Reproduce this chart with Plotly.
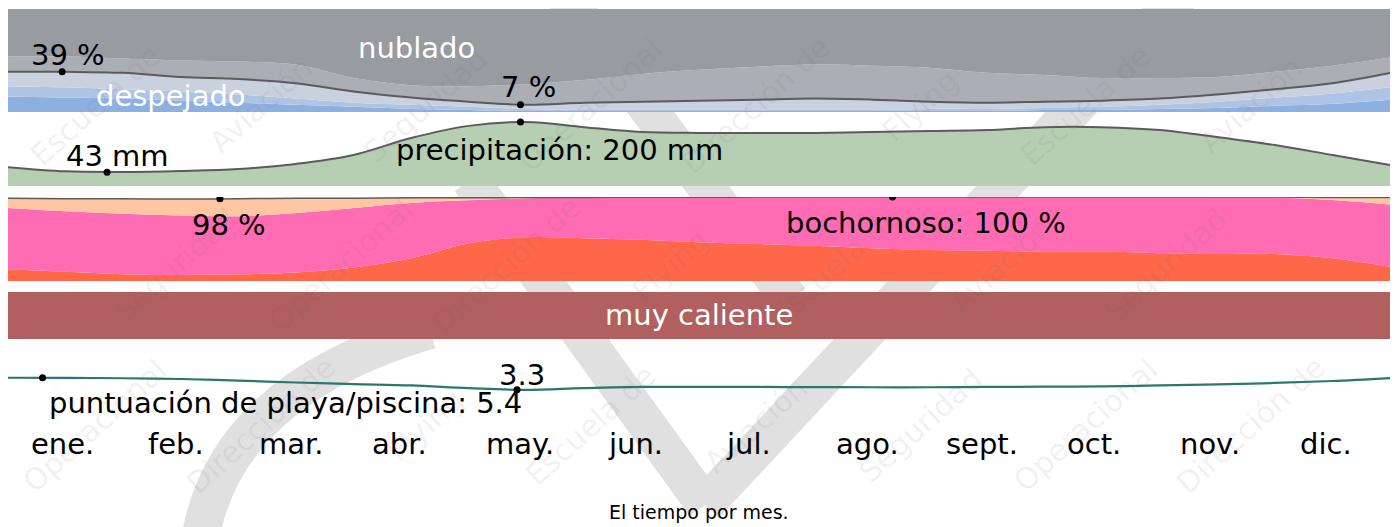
import plotly.graph_objects as go

# The page body has an 8 px margin, so the figure starts at (8, 8) of the window.
OFF = 8
W, H = 1398 - OFF, 527 - OFF


def px(x):
    return (x - OFF) / W


def py(y):
    return 1 - (y - OFF) / H


# ---------------- data ----------------
months = ["ene.", "feb.", "mar.", "abr.", "may.", "jun.", "jul.", "ago.", "sept.", "oct.", "nov.", "dic."]
month_pos = [0.47, 1.46, 2.46, 3.40, 4.45, 5.45, 6.43, 7.46, 8.46, 9.43, 10.44, 11.44]

half_months = [0, 0.5, 1, 1.5, 2, 2.5, 3, 3.5, 4, 4.5, 5, 5.5, 6,
               6.5, 7, 7.5, 8, 8.5, 9, 9.5, 10, 10.5, 11, 11.5, 12]

# cloud cover (% of time)
clear = [15, 14, 13, 11, 9, 7, 5, 3, 2, 1, 1, 1, 1, 1, 1, 1, 1, 1, 2, 2, 3, 4, 6, 8, 12]
mostly_clear = [10, 10, 9, 9, 8, 6, 4, 4, 3, 2, 1, 1, 1, 1, 1, 1, 2, 2, 2, 3, 4, 6, 8, 10, 12]
partly_cloudy = [14, 15, 16, 14, 15, 15, 11, 7, 5, 4, 7, 8, 9, 10, 11, 10, 7, 6, 6, 6, 6, 7, 8, 10, 14]
mostly_cloudy = [15, 15, 14, 16, 17, 18, 13, 12, 15, 20, 22, 27, 30, 32, 33, 33, 33, 29, 26, 22, 20, 17, 17, 17, 15]
overcast = [46, 46, 48, 50, 51, 54, 67, 74, 75, 73, 69, 63, 59, 56, 54, 55, 57, 62, 64, 67, 67, 66, 61, 55, 47]

# precipitation (mm)
precip = [59, 46, 44, 47, 53, 69, 97, 150, 188, 200, 184, 169, 166,
          166, 166, 169, 172, 175, 184, 184, 175, 153, 128, 97, 66]

# humidity comfort (% of time)
oppressive = [14, 11, 8, 7, 8, 10, 16, 27, 45, 52, 51, 49, 46, 44, 42, 39, 37, 36, 35, 35, 33, 33, 32, 27, 17]
muggy = [73, 72, 72, 71, 69, 71, 71, 66, 51, 46.5, 48, 50.5, 53.8, 55.9, 58, 61, 63, 64, 65, 65, 67, 66.8, 67.5, 69.5, 74]
humid = [11.5, 15, 18, 19.5, 21, 17.5, 11.5, 6, 3, 1, 0.5, 0.3, 0, 0, 0, 0, 0, 0, 0, 0, 0, 0.2, 0.5, 3, 8.5]

# temperature category: share of time "muy caliente" (%)
very_hot = [100] * 25

# beach / pool score (0-10)
beach = [5.39, 5.38, 5.3, 5.17, 4.9, 4.57, 4.3, 4.06, 3.6, 3.3, 3.6, 3.8, 3.8,
         3.8, 3.77, 3.75, 3.75, 3.8, 3.86, 3.9, 4.06, 4.23, 4.49, 4.83, 5.34]

# highlighted points
cloud_mark_x, cloud_mark_y = [0.47, 4.45], [39, 7]
precip_mark_x, precip_mark_y = [0.86, 4.45], [43, 200]
humid_mark_x, humid_mark_y = [1.84, 7.68], [98, 100]
beach_mark_x, beach_mark_y = [0.30, 4.42], [5.4, 3.3]

# ---------------- figure ----------------
fig = go.Figure()
LINE = "#5b5b5b"

cloud_layers = [
    ("despejado", clear, "#8db0e2"),
    ("mayormente despejado", mostly_clear, "#afc4e4"),
    ("parcialmente nublado", partly_cloudy, "#c9d1de"),
    ("mayormente nublado", mostly_cloudy, "#abafb5"),
    ("nublado", overcast, "#989ba0"),
]
for name, vals, col in cloud_layers:
    fig.add_trace(go.Scatter(x=half_months, y=vals, name=name, stackgroup="cloud", mode="lines",
                             line=dict(width=0, shape="spline", color=col), fillcolor=col,
                             yaxis="y", hoverinfo="skip"))
clear_line = [a + b + c for a, b, c in zip(clear, mostly_clear, partly_cloudy)]
fig.add_trace(go.Scatter(x=half_months, y=clear_line, mode="lines", yaxis="y",
                         line=dict(color=LINE, width=2, shape="spline"), hoverinfo="skip"))
fig.add_trace(go.Scatter(x=cloud_mark_x, y=cloud_mark_y, mode="markers", yaxis="y",
                         marker=dict(color="black", size=7), hoverinfo="skip"))

# precipitation
fig.add_trace(go.Scatter(x=half_months, y=precip, mode="lines", fill="tozeroy", yaxis="y2",
                         fillcolor="#b6ceb2", line=dict(color=LINE, width=2, shape="spline"),
                         hoverinfo="skip"))
fig.add_trace(go.Scatter(x=precip_mark_x, y=precip_mark_y, mode="markers", yaxis="y2",
                         marker=dict(color="black", size=7), hoverinfo="skip"))

# humidity
hum_layers = [
    ("opresivo", oppressive, "#ff6749"),
    ("bochornoso", muggy, "#ff6cb4"),
    ("húmedo", humid, "#ffc6a2"),
]
for name, vals, col in hum_layers:
    fig.add_trace(go.Scatter(x=half_months, y=vals, name=name, stackgroup="hum", mode="lines",
                             line=dict(width=0, shape="spline", color=col), fillcolor=col,
                             yaxis="y3", hoverinfo="skip"))
hum_line = [a + b + c for a, b, c in zip(oppressive, muggy, humid)]
fig.add_trace(go.Scatter(x=half_months, y=hum_line, mode="lines", yaxis="y3",
                         line=dict(color=LINE, width=1.5, shape="spline"), hoverinfo="skip"))
fig.add_trace(go.Scatter(x=humid_mark_x, y=humid_mark_y, mode="markers", yaxis="y3",
                         marker=dict(color="black", size=7), hoverinfo="skip"))

# temperature band
fig.add_trace(go.Scatter(x=half_months, y=very_hot, mode="lines", fill="tozeroy", yaxis="y4",
                         fillcolor="#b15f5f", line=dict(width=0, color="#b15f5f"), hoverinfo="skip"))

# beach score
fig.add_trace(go.Scatter(x=half_months, y=beach, mode="lines", yaxis="y5",
                         line=dict(color="#2a776e", width=2.2, shape="spline"), hoverinfo="skip"))
fig.add_trace(go.Scatter(x=beach_mark_x, y=beach_mark_y, mode="markers", yaxis="y5",
                         marker=dict(color="black", size=7), hoverinfo="skip"))

# ---------------- annotations ----------------
FONT = "DejaVu Sans, Liberation Sans, Arial"
ann = []

# faint watermark words (drawn first so chart labels sit on top)
wm_words = ["Escuela de", "Aviación", "Seguridad", "Operacional", "Dirección de", "Flying"]
wm_pos = []
for r, wy in enumerate([105, 265, 425]):
    shift = 0 if r % 2 == 0 else 80
    for c in range(8):
        wx = 95 + shift + c * 165
        if wx <= 1310:
            wm_pos.append((wx, wy))
for i, (wx, wy) in enumerate(wm_pos):
    ann.append(dict(text=wm_words[i % len(wm_words)], x=px(wx), y=py(wy), xref="paper", yref="paper",
                    xanchor="center", yanchor="middle", showarrow=False, textangle=-42,
                    font=dict(family=FONT, size=30, color="rgba(110,110,110,0.10)")))


def label(text, x, y, size=29, color="black"):
    ann.append(dict(text=text, x=px(x), y=py(y), xref="paper", yref="paper",
                    xanchor="center", yanchor="middle", showarrow=False,
                    font=dict(family=FONT, size=size, color=color)))


label("39 %", 68, 55)
label("nublado", 416, 48, color="white")
label("despejado", 171, 96, color="white")
label("7 %", 528, 87)
label("43 mm", 118, 156)
label("precipitación: 200 mm", 559, 150)
label("98 %", 229, 225)
label("bochornoso: 100 %", 926, 223)
label("muy caliente", 699, 315, color="white")
label("3.3", 522, 375)
label("puntuación de playa/piscina: 5.4", 285, 403)
for m, pos in zip(months, month_pos):
    ann.append(dict(text=m, x=pos, y=py(444), xref="x", yref="paper", xanchor="center",
                    yanchor="middle", showarrow=False, font=dict(family=FONT, size=29, color="black")))
label("El tiempo por mes.", 699, 512, size=19)

# faint watermark logo strokes (behind the chart)
shapes = []


def P(x, y):
    return f"{px(x):.4f},{py(y):.4f}"


def stroke(path):
    shapes.append(dict(type="path", path=path, xref="paper", yref="paper", layer="below",
                       line=dict(color="#e0e0e0", width=38)))


stroke(f"M {P(1185, -10)} L {P(705, 505)}")
stroke(f"M {P(470, 180)} L {P(705, 505)}")
stroke(f"M {P(560, -10)} L {P(790, 300)}")
stroke(f"M {P(200, 540)} Q {P(225, 390)} {P(430, 330)}")

fig.update_layout(
    width=W, height=H, autosize=False,
    margin=dict(l=0, r=0, t=0, b=0),
    paper_bgcolor="white", plot_bgcolor="rgba(0,0,0,0)",
    showlegend=False,
    xaxis=dict(range=[0, 12], domain=[px(8), px(1390)], visible=False, fixedrange=True),
    yaxis=dict(domain=[py(112), py(9)], range=[0, 100], visible=False, fixedrange=True),
    yaxis2=dict(domain=[py(186), py(115)], range=[0, 222], visible=False, fixedrange=True, anchor="x"),
    yaxis3=dict(domain=[py(281), py(197)], range=[0, 100], visible=False, fixedrange=True, anchor="x"),
    yaxis4=dict(domain=[py(339), py(292)], range=[0, 100], visible=False, fixedrange=True, anchor="x"),
    yaxis5=dict(domain=[py(409), py(351)], range=[0, 10], visible=False, fixedrange=True, anchor="x"),
    annotations=ann,
    shapes=shapes,
)

fig.write_html("out.html")
